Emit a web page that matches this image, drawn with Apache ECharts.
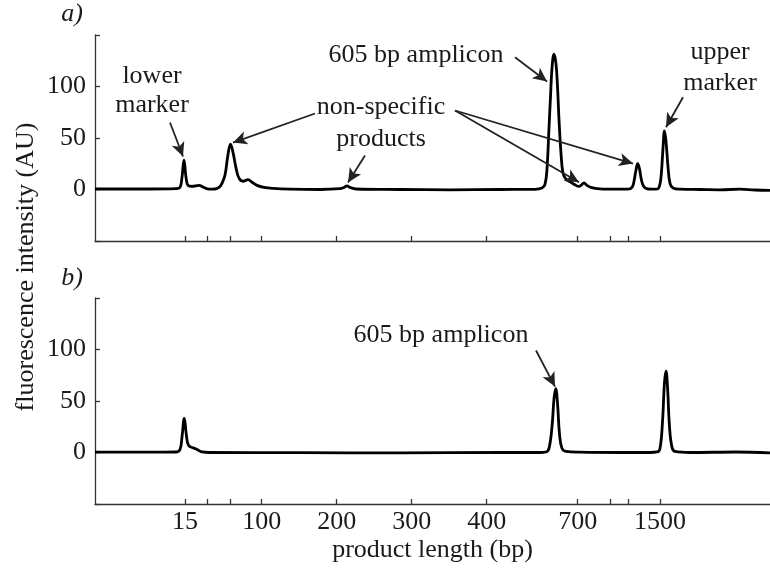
<!DOCTYPE html>
<html>
<head>
<meta charset="utf-8">
<script src="https://cdn.jsdelivr.net/npm/echarts@6/dist/echarts.min.js"></script>
<style>html,body{margin:0;padding:0;background:#fff}#c{width:770px;height:573px}</style>
</head>
<body>
<div id="c"></div>
<script>
// migration position (arbitrary units) and fluorescence (AU)
var xA = [0,55,81,85,87,89,91,93,97,104,109,114,120,124,127,130,133,135.5,138,141,144,148,153,157,162,169,178,195,225,245,249,252,255,261,305,355,405,440,447,450,452,454,455.5,457,459,461,462.5,464,466,468,471,476,480,484,486,489,492,496,502,515,533,537,539,541,542.7,544.5,546.5,549,553,561,564,566,568,569.5,571,573,575,578,585,605,625,645,660,675];
var yA = [0.5,0.5,0.8,2,12,28.5,12,4,3,4,2,0.3,0.5,2,6,14,34,44,36,21,11,8,9.5,7,4,2,1,0.3,0,0.8,2,3.5,2,0.5,0,-0.3,0,0.2,1.5,5,20,60,90,118,131.5,122,100,68,35,16,10,7,4.5,3,4,6.5,4,2,0.8,0.3,0.3,2,8,19,25,20,9,2.5,0.5,0.3,2,12,40,57,47,22,6,1.5,0.3,0,-0.3,0.3,-0.5,-0.8];
var xB = [0,55,81,85,87,89.3,91.5,93.5,98,102,107,115,205,305,405,445,451,454,457,459,460.7,462.5,464.5,467,471,485,525,555,562,565,567.5,569.5,571,572.5,574.5,577,580,595,641,675];
var yB = [0.3,0.3,0.5,3,15,33,16,7,4.5,3,0.5,0,-0.2,-0.3,0,0,0.5,4,25,52,62,48,18,4,1,0.3,0,0,0.5,4,30,68,79,64,25,5,1,0,0.5,-0.3];
// x-axis ticks (positions) and their bp labels
var tickPos = [90,112.7,135,166.7,241.7,316.7,391.7,482.7,515.7,533.3,565];
var labelPos = [90,166.7,241.7,316.7,391.7,482.7,565];
var labelTxt = ['15','100','200','300','400','700','1500'];
// annotation arrows: [panel, x1, y1, x2, y2]
var arrows = [
  [0,75,65,88,32],
  [0,220,73.8,138,45.6],
  [0,270,33,253,6.8],
  [0,360,76.7,538,25.2],
  [0,360,76.7,484,7],
  [0,420,128.4,452,104.9],
  [0,588,89.6,571,60.5],
  [1,441,99,460,64]
];
// annotation texts: [panel, x, y, text]
var notes = [
  [0,57,109.7,'lower'],[0,57,81.5,'marker'],
  [0,286,79.6,'non-specific'],[0,286,48.5,'products'],
  [0,321,130,'605 bp amplicon'],
  [0,625,133,'upper'],[0,625,103,'marker'],
  [1,346,113.6,'605 bp amplicon']
];

var FONT = 'Liberation Serif';
var FS = 26;
var TC = '#1a1a1a';
var AX = '#333';
function zip(a,b){return a.map(function(v,i){return [v,b[i]];});}

var chart = echarts.init(document.getElementById('c'), null, {renderer:'canvas'});
function xAxisCfg(gi, labels){
  return {
    type:'value', gridIndex:gi, min:0, max:675,
    axisLine:{show:true, onZero:false, lineStyle:{color:AX,width:1.3}},
    axisTick:{show:true, inside:true, length:5, customValues:tickPos, lineStyle:{color:AX,width:1.3}},
    axisLabel:{show:labels, customValues:labelPos, margin:5,
      formatter:function(v){var i=labelPos.indexOf(v);return i>=0?labelTxt[i]:'';},
      fontFamily:FONT, fontSize:FS, color:TC},
    splitLine:{show:false},
    name: labels?'product length (bp)':'', nameLocation:'middle', nameGap:33,
    nameTextStyle:{fontFamily:FONT, fontSize:FS, color:TC}
  };
}
function yAxisCfg(gi){
  return {
    type:'value', gridIndex:gi, min:-50, max:150, interval:50,
    axisLine:{show:true, onZero:false, lineStyle:{color:AX,width:1.3}},
    axisTick:{show:true, inside:true, length:5, lineStyle:{color:AX,width:1.3}},
    axisLabel:{margin:9, fontFamily:FONT, fontSize:FS, color:TC,
      formatter:function(v){return (v===-50||v===150)?'':String(v);}},
    splitLine:{show:false}
  };
}
function arrowData(p){
  return arrows.filter(function(a){return a[0]===p;}).map(function(a){
    return [{coord:[a[1],a[2]]},{coord:[a[3],a[4]]}];
  });
}
function traceSeries(gi, x, y){
  return {
    type:'line', xAxisIndex:gi, yAxisIndex:gi, data:zip(x,y),
    showSymbol:false, smooth:0.4,
    lineStyle:{color:'#000', width:2.8, join:'round'}, silent:true,
    markLine:{silent:true, symbol:['none','arrow'], symbolSize:[10,14],
      label:{show:false}, lineStyle:{color:'#222', width:1.8, type:'solid'},
      emphasis:{disabled:true}, data:arrowData(gi)}
  };
}
chart.setOption({
  animation:false,
  grid:[
    {left:95, right:0, top:35, height:206, containLabel:false},
    {left:95, right:0, top:298, height:206, containLabel:false}
  ],
  xAxis:[xAxisCfg(0,false), xAxisCfg(1,true)],
  yAxis:[yAxisCfg(0), yAxisCfg(1)],
  series:[traceSeries(0,xA,yA), traceSeries(1,xB,yB)]
});

var g = [
  {type:'text', x:72, y:14, style:{text:'a)', font:'italic '+FS+'px "'+FONT+'"', fill:TC, textAlign:'center', textVerticalAlign:'middle'}},
  {type:'text', x:72, y:278, style:{text:'b)', font:'italic '+FS+'px "'+FONT+'"', fill:TC, textAlign:'center', textVerticalAlign:'middle'}},
  {type:'text', x:26, y:267, rotation:Math.PI/2, style:{text:'fluorescence intensity (AU)', font:FS+'px "'+FONT+'"', fill:TC, textAlign:'center', textVerticalAlign:'middle'}}
];
notes.forEach(function(n){
  var p = chart.convertToPixel({gridIndex:n[0]}, [n[1], n[2]]);
  g.push({type:'text', x:p[0], y:p[1], style:{text:n[3], font:FS+'px "'+FONT+'"', fill:TC, textAlign:'center', textVerticalAlign:'middle'}});
});
chart.setOption({graphic:g});
</script>
</body>
</html>
